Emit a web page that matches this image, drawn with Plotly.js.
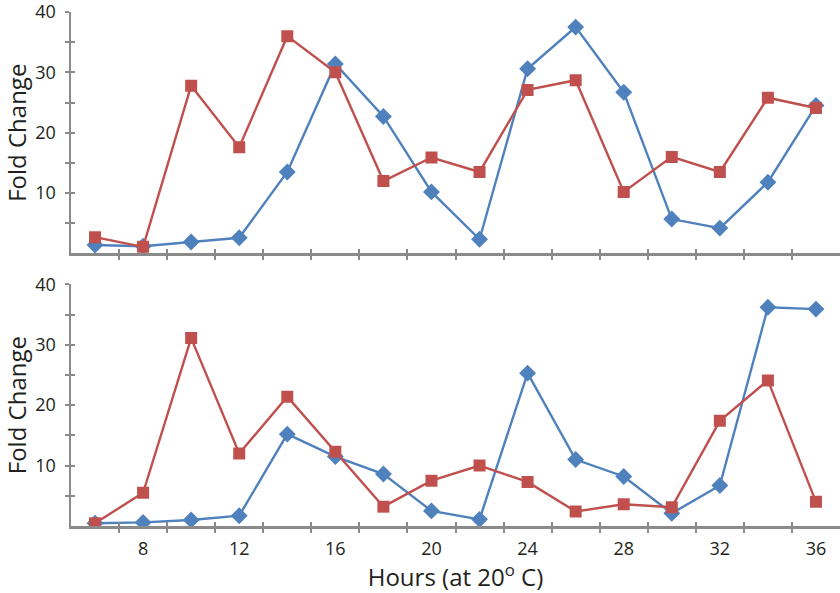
<!DOCTYPE html>
<html>
<head>
<meta charset="utf-8">
<script src="https://cdn.plot.ly/plotly-3.0.1.min.js"></script>
<style>html,body{margin:0;padding:0;background:#fff;}#chart{width:840px;height:593px;}</style>
</head>
<body>
<div id="chart"></div>
<script>
var hours = [6, 8, 10, 12, 14, 16, 18, 20, 22, 24, 26, 28, 30, 32, 34, 36];
var topBlue = [1.4, 1.2, 1.9, 2.6, 13.5, 31.4, 22.7, 10.2, 2.35, 30.6, 37.5, 26.7, 5.7, 4.2, 11.8, 24.5];
var topRed = [2.7, 1.1, 27.8, 17.6, 36.0, 30.0, 12.0, 15.9, 13.5, 27.1, 28.7, 10.2, 16.0, 13.5, 25.8, 24.1];
var botBlue = [0.45, 0.6, 1.0, 1.7, 15.2, 11.5, 8.6, 2.5, 1.1, 25.3, 11.0, 8.2, 2.1, 6.7, 36.2, 35.9];
var botRed = [0.45, 5.5, 31.1, 12.0, 21.4, 12.3, 3.2, 7.5, 10.0, 7.3, 2.4, 3.6, 3.1, 17.4, 24.1, 4.0];
var xLabelVals = [8, 12, 16, 20, 24, 28, 32, 36];
var xMinorVals = [7, 9, 11, 13, 15, 17, 19, 21, 23, 25, 27, 29, 31, 33, 35];
var yLabelVals = [10, 20, 30, 40];
var yMinorVals = [5, 10, 15, 20, 25, 30, 35, 40];

var BLUE = '#4F81BD', RED = '#C0504D', AX = '#8a8a8a', TXT = '#231F20';
var FONT = 'Open Sans, sans-serif';

function series(x, y, color, sym, size, xa, ya) {
  return {x: x, y: y, type: 'scatter', mode: 'lines+markers', xaxis: xa, yaxis: ya,
    line: {color: color, width: 2.4},
    marker: {symbol: sym, size: size, color: color, line: {width: 0}},
    showlegend: false, hoverinfo: 'skip'};
}
var traces = [
  series(hours, topBlue, BLUE, 'diamond', 13, 'x2', 'y2'),
  series(hours, topRed, RED, 'square', 12, 'x2', 'y2'),
  series(hours, botBlue, BLUE, 'diamond', 13, 'x', 'y'),
  series(hours, botRed, RED, 'square', 12, 'x', 'y')
];
traces.push({x: [5], y: [-10], xaxis: 'x3', yaxis: 'y3', mode: 'markers', marker: {opacity: 0}, showlegend: false, hoverinfo: 'skip'});
traces.push({x: [5], y: [-10], xaxis: 'x4', yaxis: 'y4', mode: 'markers', marker: {opacity: 0}, showlegend: false, hoverinfo: 'skip'});

function baseX(anchor, labels) {
  return {anchor: anchor, range: [5, 37], showgrid: false, zeroline: false,
    showline: true, linecolor: AX, linewidth: 2.5,
    tickvals: xLabelVals, ticktext: xLabelVals.map(String), ticks: '', showticklabels: labels,
    tickfont: {family: FONT, size: 18, color: TXT}, ticklabelstandoff: 5,
    minor: {tickvals: xMinorVals, ticks: 'outside', ticklen: 4, tickwidth: 2, tickcolor: AX}};
}
function baseY(anchor, domain) {
  return {anchor: anchor, domain: domain, range: [0, 40], showgrid: false, zeroline: false,
    showline: true, linecolor: AX, linewidth: 2.5,
    tickvals: yLabelVals, ticktext: yLabelVals.map(String), ticks: '',
    tickfont: {family: FONT, size: 18, color: TXT}, ticklabelstandoff: 9,
    ticklabeloverflow: 'allow',
    minor: {tickvals: yMinorVals, ticks: 'outside', ticklen: 4, tickwidth: 2, tickcolor: AX},
    title: {text: 'Fold Change', font: {family: FONT, size: 24, color: TXT}, standoff: 6}};
}
function overX(over, anchor) {
  return {overlaying: over, anchor: anchor, range: [5, 37], showgrid: false, zeroline: false, showline: false,
    tickvals: xMinorVals, ticks: 'inside', ticklen: 4, tickwidth: 2, tickcolor: AX, showticklabels: false};
}
function overY(over, anchor) {
  return {overlaying: over, anchor: anchor, range: [0, 40], showgrid: false, zeroline: false, showline: false,
    tickvals: yMinorVals, ticks: 'inside', ticklen: 4, tickwidth: 2, tickcolor: AX, showticklabels: false};
}

var xb = baseX('y', true);
xb.title = {text: 'Hours (at 20<sup>o</sup> C)', font: {family: FONT, size: 24, color: TXT}, standoff: 2};

var layout = {
  width: 840, height: 593,
  margin: {l: 71, r: 0, t: 12, b: 67},
  paper_bgcolor: '#fff', plot_bgcolor: 'rgba(0,0,0,0)',
  showlegend: false,
  xaxis: xb,
  yaxis: baseY('x', [0, 0.4702]),
  xaxis2: baseX('y2', false),
  yaxis2: baseY('x2', [0.5302, 1]),
  xaxis3: overX('x', 'y'),
  yaxis3: overY('y', 'x'),
  xaxis4: overX('x2', 'y2'),
  yaxis4: overY('y2', 'x2')
};
Plotly.newPlot('chart', traces, layout, {displayModeBar: false, staticPlot: true});
</script>
</body>
</html>
